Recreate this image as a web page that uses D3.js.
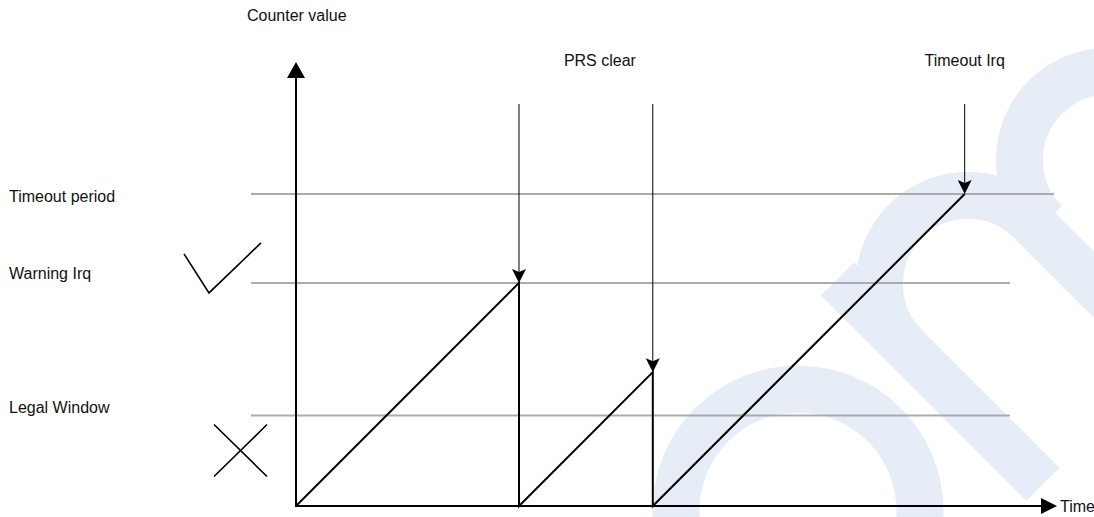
<!DOCTYPE html>
<html><head><meta charset="utf-8">
<script src="https://cdn.jsdelivr.net/npm/d3@7"></script>
<style>html,body{margin:0;padding:0;background:#fff;} svg{display:block;}</style>
</head><body>
<svg id="chart" width="1094" height="517"></svg>
<script>
// ---------------- data (counter units: timeout period = 100) ----------------
const thresholdNames  = ["Timeout period", "Warning Irq", "Legal Window"];
const thresholdValues = [100, 71.5, 29];
const traceTimes  = [0, 71.5, 71.5, 114.4, 114.4, 214.4];
const traceValues = [0, 71.5, 0,    42.9,  0,     100];
const prsClearTimes   = [71.5, 114.4];
const timeoutIrqTimes = [214.4];
const axisLabels  = ["Counter value", "Time"];
const eventLabels = ["PRS clear", "Timeout Irq"];
const timeDomain  = [0, 244];
const valueDomain = [0, 142.3];

// ---------------- layout ----------------
const W = 1094, H = 517;
const FONT = "'Liberation Sans', Arial, Helvetica, sans-serif";
const svg = d3.select("#chart");
const x = d3.scaleLinear().domain(timeDomain).range([296, 1057]);
const y = d3.scaleLinear().domain(valueDomain).range([506, 62]);

// ---------------- watermark (decorative background logo) ----------------
const wm = svg.append("g").attr("fill", "none").attr("stroke", "#e7edf6").attr("stroke-width", 47);
wm.append("circle").attr("cx", 798).attr("cy", 511).attr("r", 122);
wm.append("line").attr("x1", 837.5).attr("y1", 279).attr("x2", 1043).attr("y2", 484.5);
const r2 = 88.6;
[[968, 284], [1108, 160]].forEach(([cx, cy]) => {
  const p = d3.path();
  p.moveTo(cx + r2 * Math.cos(3 * Math.PI / 4), cy + r2 * Math.sin(3 * Math.PI / 4));
  p.arc(cx, cy, r2, 3 * Math.PI / 4, 7 * Math.PI / 4, false);
  const ex = cx + r2 * Math.SQRT1_2, ey = cy - r2 * Math.SQRT1_2;
  p.lineTo(ex + 400, ey + 400);
  wm.append("path").attr("d", p.toString());
});

// ---------------- threshold lines ----------------
const thresholdEnds = [1054, 1010, 1010];
svg.append("g").selectAll("line").data(thresholdValues).join("line")
  .attr("x1", 251).attr("x2", (d, i) => thresholdEnds[i])
  .attr("y1", d => y(d)).attr("y2", d => y(d))
  .attr("stroke", "#ababab").attr("stroke-width", 2);

svg.append("g").selectAll("text").data(thresholdNames).join("text")
  .attr("x", 9).attr("y", (d, i) => y(thresholdValues[i]) + [8.5, -4, -2.5][i])
  .attr("font-family", FONT).attr("font-size", 16).attr("fill", "#111")
  .text(d => d);

// ---------------- axes ----------------
const axisG = svg.append("g");
axisG.append("line").attr("x1", x(0)).attr("y1", y(0)).attr("x2", x(0)).attr("y2", y(valueDomain[1]) + 14)
  .attr("stroke", "#000").attr("stroke-width", 2);
axisG.append("line").attr("x1", x(0) - 1).attr("y1", y(0)).attr("x2", x(timeDomain[1]) - 14).attr("y2", y(0))
  .attr("stroke", "#000").attr("stroke-width", 2);
axisG.append("path").attr("fill", "#000")
  .attr("d", `M${x(0)},${y(valueDomain[1])} L${x(0) + 9},${y(valueDomain[1]) + 16} L${x(0) - 9},${y(valueDomain[1]) + 16} Z`);
axisG.append("path").attr("fill", "#000")
  .attr("d", `M${x(timeDomain[1])},${y(0)} L${x(timeDomain[1]) - 16},${y(0) - 8} L${x(timeDomain[1]) - 16},${y(0) + 8} Z`);

svg.append("text").attr("x", 247).attr("y", 21).attr("font-family", FONT).attr("font-size", 16)
  .attr("fill", "#111").text(axisLabels[0]);
svg.append("text").attr("x", x(timeDomain[1]) + 3).attr("y", y(0) + 5.5).attr("font-family", FONT).attr("font-size", 16)
  .attr("fill", "#111").text(axisLabels[1]);

// ---------------- counter trace ----------------
const trace = traceTimes.map((t, i) => [t, traceValues[i]]);
svg.append("path").datum(trace)
  .attr("d", d3.line().x(d => x(d[0])).y(d => y(d[1])))
  .attr("fill", "none").attr("stroke", "#000").attr("stroke-width", 2).attr("stroke-linejoin", "miter");

// ---------------- event arrows ----------------
const arrowTop = 104;
const peakAt = t => d3.max(trace.filter(d => d[0] === t), d => d[1]);
const events = prsClearTimes.concat(timeoutIrqTimes);
const evG = svg.append("g");
events.forEach(t => {
  const px = x(t), tip = y(peakAt(t));
  evG.append("line").attr("x1", px).attr("x2", px).attr("y1", arrowTop).attr("y2", tip - 10)
    .attr("stroke", "#000").attr("stroke-width", 1);
  evG.append("path").attr("fill", "#000")
    .attr("d", `M${px},${tip} L${px - 7},${tip - 14} L${px},${tip - 11} L${px + 7},${tip - 14} Z`);
});
svg.append("text").attr("x", d3.mean(prsClearTimes, x) + 14).attr("y", 66).attr("text-anchor", "middle")
  .attr("font-family", FONT).attr("font-size", 16).attr("fill", "#111").text(eventLabels[0]);
svg.append("text").attr("x", x(timeoutIrqTimes[0])).attr("y", 66).attr("text-anchor", "middle")
  .attr("font-family", FONT).attr("font-size", 16).attr("fill", "#111").text(eventLabels[1]);

// ---------------- check / cross marks ----------------
const wy = y(thresholdValues[1]), ly = y(thresholdValues[2]);
svg.append("path").attr("fill", "none").attr("stroke", "#000").attr("stroke-width", 1.6)
  .attr("d", `M184,${wy - 29} L209,${wy + 10} L261,${wy - 40}`);
const cxX = 240.5, cyX = ly + 35;
svg.append("path").attr("fill", "none").attr("stroke", "#000").attr("stroke-width", 1.6)
  .attr("d", `M${cxX - 26.5},${cyX - 26} L${cxX + 26.5},${cyX + 26} M${cxX + 26.5},${cyX - 26} L${cxX - 26.5},${cyX + 26}`);
</script>
</body></html>
